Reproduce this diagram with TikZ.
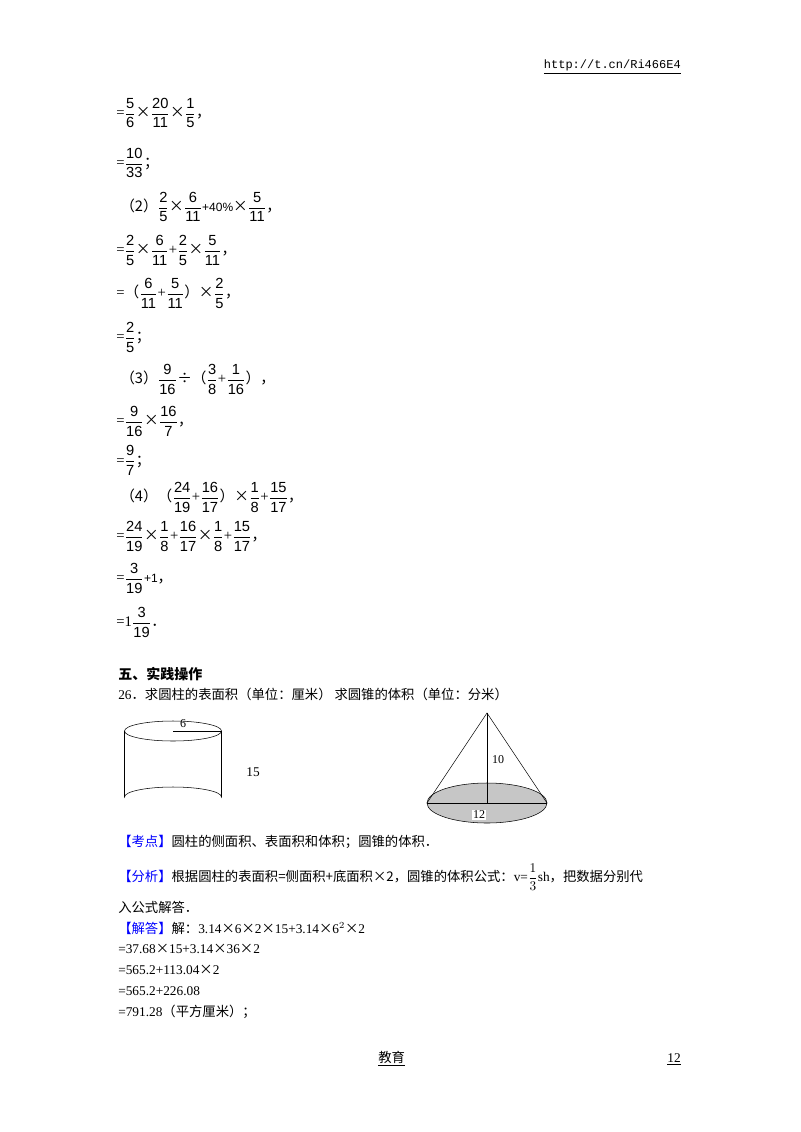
\documentclass[tikz,border=0pt]{standalone}
\usepackage{amsmath}
\usepackage{fontspec}
\setmainfont{Liberation Serif}
\newfontfamily\cjk{Noto Sans CJK SC}
\newfontfamily\sfd{Liberation Sans}
\newfontfamily\mono{Liberation Mono}
\newcommand{\fr}[2]{$\displaystyle\frac{\text{\sfd #1}}{\text{\sfd #2}}$}
\newcommand{\cmm}{{\cjk ，}}
\newcommand{\smc}{{\cjk ；}}
\newcommand{\tms}{$\mathbin{\text{\cjk ×}}$}
\begin{document}
\begin{tikzpicture}[x=0.75pt,y=-0.75pt,
  ln/.style={anchor=west,inner sep=0pt,font=\fontsize{11}{13}\selectfont},
  tx/.style={anchor=west,inner sep=0pt,font=\fontsize{10}{12}\selectfont\cjk},
  lab/.style={inner sep=0.5pt,font=\fontsize{9}{11}\selectfont}]
\useasboundingbox (0,0) rectangle (800,1132);
\node[anchor=east,inner sep=0pt,font=\fontsize{9}{11}\selectfont\mono] (url) at (681,67) {\underline{http://t.cn/Ri466E4}};
\node[ln] (l1) at (116,113) {=\fr{5}{6}\tms\fr{20}{11}\tms\fr{1}{5}\cmm};
\node[ln] (l2) at (116,163) {=\fr{10}{33}\smc};
\node[ln] (l3) at (120,207) {{\cjk （2）}\fr{2}{5}\tms\fr{6}{11}{\sfd\small +40\%}\tms\fr{5}{11}\cmm};
\node[ln] (l4) at (116,250) {=\fr{2}{5}\tms\fr{6}{11}+\fr{2}{5}\tms\fr{5}{11}\cmm};
\node[ln] (l5) at (116,293) {={\cjk （}\fr{6}{11}+\fr{5}{11}{\cjk ）}\tms\fr{2}{5}\cmm};
\node[ln] (l6) at (116,337) {=\fr{2}{5}\smc};
\node[ln] (l7) at (120,379) {{\cjk （3）}\fr{9}{16}{\cjk ÷}{\cjk （}\fr{3}{8}+\fr{1}{16}{\cjk ）}\cmm};
\node[ln] (l8) at (116,421) {=\fr{9}{16}\tms\fr{16}{7}\cmm};
\node[ln] (l9) at (116,460) {=\fr{9}{7}\smc};
\node[ln] (l10) at (120,497) {{\cjk （4）（}\fr{24}{19}+\fr{16}{17}{\cjk ）}\tms\fr{1}{8}+\fr{15}{17}\cmm};
\node[ln] (l11) at (116,536) {=\fr{24}{19}\tms\fr{1}{8}+\fr{16}{17}\tms\fr{1}{8}+\fr{15}{17}\cmm};
\node[ln] (l12) at (116,578) {=\fr{3}{19}{\sfd\small +1}\cmm};
\node[ln] (l13) at (116,622) {=1\fr{3}{19}{\cjk ．}};
\node[tx,font=\fontsize{10.5}{12}\selectfont\cjk\bfseries] (sec) at (118,674) {五、实践操作};
\node[tx] (q26) at (118,694) {{\rmfamily 26}．求圆柱的表面积（单位：厘米） 求圆锥的体积（单位：分米）};
% cylinder
\coordinate (ct) at (173,731); \coordinate (cb) at (173,797);
\draw[thin] (ct) ellipse [x radius=48.5, y radius=10];
\draw[thin] (124.5,731) -- (124.5,797) arc[start angle=180,end angle=360,x radius=48.5,y radius=10] -- (221.5,731);
\draw[thin] (ct) -- (221.5,731);
\node[lab] (six) at (183,724) {6};
\node[lab,font=\fontsize{10}{12}\selectfont] (h15) at (253,772) {15};
% cone
\coordinate (apex) at (487,713); \coordinate (bc) at (487,803);
\draw[thin,fill=gray!45] (bc) ellipse [x radius=60, y radius=20];
\draw[thin] (427,803) -- (apex) -- (547,803);
\draw[thin] (apex) -- (bc);
\draw[thin] (427,803) -- (547,803);
\node[lab] (ten) at (498,760) {10};
\node[lab,fill=white] (twelve) at (479,815) {12};
% text
\node[tx] (kd) at (118,842) {{\color{blue}【考点】}圆柱的侧面积、表面积和体积；圆锥的体积．};
\node[tx] (fx) at (118,877) {{\color{blue}【分析】}根据圆柱的表面积=侧面积+底面积×2，圆锥的体积公式：{\rmfamily v=$\displaystyle\frac{1}{3}$sh}，把数据分别代};
\node[tx] (fx2) at (118,907) {入公式解答．};
\node[tx] (jd) at (118,928) {{\color{blue}【解答】}解：{\rmfamily 3.14}×{\rmfamily 6}×{\rmfamily 2}×{\rmfamily 15+3.14}×{\rmfamily 6$^2$}×{\rmfamily 2}};
\node[tx] (s1) at (118,949) {{\rmfamily =37.68}×{\rmfamily 15+3.14}×{\rmfamily 36}×{\rmfamily 2}};
\node[tx] (s2) at (118,970) {{\rmfamily =565.2+113.04}×{\rmfamily 2}};
\node[tx] (s3) at (118,991) {{\rmfamily =565.2+226.08}};
\node[tx] (s4) at (118,1012) {{\rmfamily =791.28}（平方厘米）；};
\node[tx] (ft) at (378,1059) {\underline{教育}};
\node[anchor=east,inner sep=0pt,font=\fontsize{10}{12}\selectfont] (pg) at (681,1059) {\underline{12}};
\end{tikzpicture}
\end{document}
